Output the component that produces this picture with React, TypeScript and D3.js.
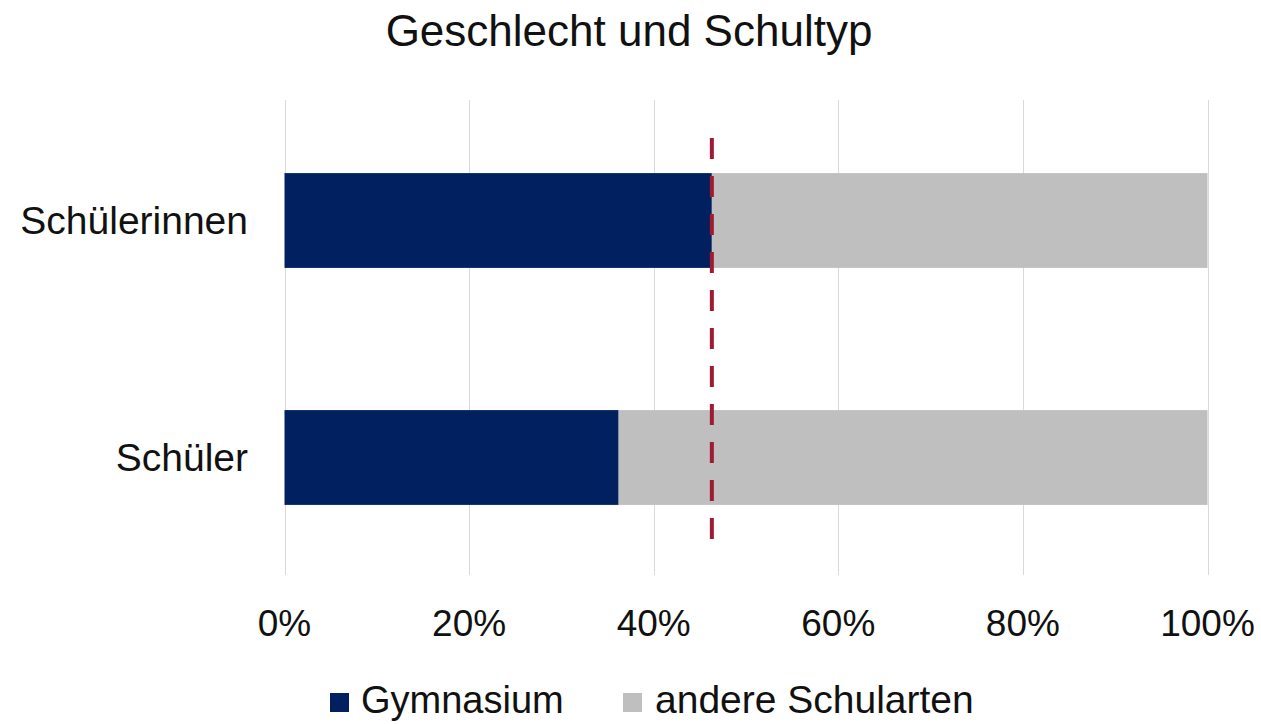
import React from "react";
import * as d3 from "d3";

const title = "Geschlecht und Schultyp";
const categories = ["Schülerinnen", "Schüler"];
const gymnasium = [46.3, 36.2];
const andere = [53.7, 63.8];
const seriesNames = ["Gymnasium", "andere Schularten"];
const seriesColors = ["#002060", "#bfbfbf"];
const tickValues = [0, 20, 40, 60, 80, 100];
const referenceValue = 46.3;

const W = 1261;
const H = 724;
const FONT = "'Liberation Sans', Arial, sans-serif";

export default function App() {
  const x = d3.scaleLinear().domain([0, 100]).range([284.5, 1207.5]);
  const y = d3
    .scaleBand<string>()
    .domain(categories)
    .range([102, 576])
    .paddingInner(0.6)
    .paddingOuter(0.3);

  const stack = categories.map((c, i) => {
    const g = gymnasium[i];
    const a = andere[i];
    return { c, segs: [[0, g], [g, g + a]] };
  });

  return (
    <svg
      width={W}
      height={H}
      style={{ position: "absolute", left: 0, top: 0, background: "#fff" }}
      fontFamily={FONT}
    >
      <rect x={0} y={0} width={W} height={H} fill="#fff" />
      <text x={629} y={46} fontSize={44} textAnchor="middle" fill="#111">
        {title}
      </text>
      {tickValues.map((t) => (
        <line
          key={"g" + t}
          x1={Math.round(x(t)) + 0.5}
          x2={Math.round(x(t)) + 0.5}
          y1={100}
          y2={575}
          stroke="#d9d9d9"
          strokeWidth={1}
        />
      ))}
      {stack.map((s) =>
        s.segs.map((seg, j) => (
          <rect
            key={s.c + j}
            x={x(seg[0])}
            y={y(s.c)}
            width={x(seg[1]) - x(seg[0])}
            height={y.bandwidth()}
            fill={seriesColors[j]}
          />
        ))
      )}
      {categories.map((c) => (
        <text
          key={"l" + c}
          x={248}
          y={(y(c) as number) + y.bandwidth() / 2 + 13}
          fontSize={39}
          textAnchor="end"
          fill="#111"
        >
          {c}
        </text>
      ))}
      {tickValues.map((t) => (
        <text
          key={"t" + t}
          x={x(t)}
          y={636}
          fontSize={37}
          textAnchor="middle"
          fill="#111"
        >
          {t + "%"}
        </text>
      ))}
      <line
        x1={x(referenceValue)}
        x2={x(referenceValue)}
        y1={138}
        y2={540}
        stroke="#9e1b32"
        strokeWidth={4}
        strokeDasharray="21 17"
      />
      <g>
        <rect x={330} y={693} width={19} height={19} fill={seriesColors[0]} />
        <text x={361} y={713} fontSize={38} fill="#111">
          {seriesNames[0]}
        </text>
        <rect x={623} y={693} width={19} height={19} fill={seriesColors[1]} />
        <text x={655} y={713} fontSize={39} fill="#111">
          {seriesNames[1]}
        </text>
      </g>
    </svg>
  );
}
